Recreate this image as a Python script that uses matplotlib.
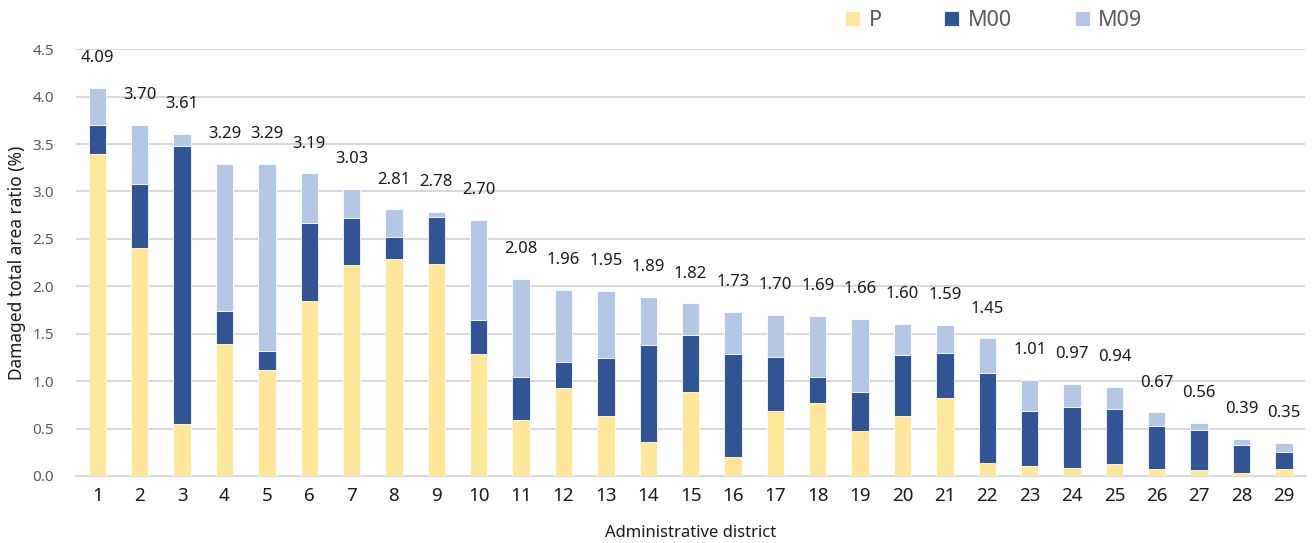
import matplotlib
matplotlib.use("Agg")
import matplotlib.pyplot as plt
import numpy as np

plt.rcParams['font.family'] = ['Noto Sans', 'DejaVu Sans']

districts = [str(i) for i in range(1, 30)]
p_vals = [3.40, 2.40, 0.55, 1.39, 1.12, 1.85, 2.22, 2.29, 2.24, 1.29,
          0.59, 0.93, 0.63, 0.36, 0.89, 0.20, 0.69, 0.77, 0.47, 0.63,
          0.82, 0.14, 0.11, 0.08, 0.13, 0.07, 0.06, 0.03, 0.07]
m00_vals = [0.30, 0.68, 2.93, 0.35, 0.20, 0.82, 0.50, 0.23, 0.49, 0.35,
            0.45, 0.27, 0.61, 1.02, 0.60, 1.09, 0.56, 0.27, 0.42, 0.65,
            0.48, 0.95, 0.57, 0.65, 0.58, 0.46, 0.42, 0.30, 0.18]
m09_vals = [0.39, 0.62, 0.13, 1.55, 1.97, 0.52, 0.31, 0.29, 0.05, 1.06,
            1.04, 0.76, 0.71, 0.51, 0.33, 0.44, 0.45, 0.65, 0.77, 0.32,
            0.29, 0.36, 0.33, 0.24, 0.23, 0.14, 0.08, 0.06, 0.10]
y_ticks = [0.0, 0.5, 1.0, 1.5, 2.0, 2.5, 3.0, 3.5, 4.0, 4.5]

col_p = '#FFE699'
col_m00 = '#2F5597'
col_m09 = '#B4C7E7'
grid_col = '#D9D9D9'
text_grey = '#595959'

fig = plt.figure(figsize=(13.13, 5.43), dpi=100)
ax = fig.add_axes([0.058, 0.1234, 0.936, 0.786])

x = np.arange(1, len(districts) + 1)
p = np.array(p_vals)
m00 = np.array(m00_vals)
m09 = np.array(m09_vals)
w = 0.41
kw = dict(width=w, edgecolor='white', linewidth=0.6, zorder=3)
ax.bar(x, p, color=col_p, label='P', **kw)
ax.bar(x, m00, bottom=p, color=col_m00, label='M00', **kw)
ax.bar(x, m09, bottom=p + m00, color=col_m09, label='M09', **kw)

totals = p + m00 + m09
for xi, t in zip(x, totals):
    ax.annotate(f'{t:.2f}', (xi, t), xytext=(0, 21.5), textcoords='offset points',
                ha='center', va='center', fontsize=12, color='#1a1a1a')

ax.set_xlim(0.5, 29.5)
ax.set_ylim(0, 4.5)
ax.set_yticks(y_ticks)
ax.set_yticklabels([f'{v:.1f}' for v in y_ticks], fontsize=11, color=text_grey)
ax.set_xticks(x)
ax.set_xticklabels(districts, fontsize=13.5, color='#1a1a1a')
ax.tick_params(axis='both', length=0)
ax.tick_params(axis='y', pad=16)
ax.tick_params(axis='x', pad=8)
ax.grid(axis='y', color=grid_col, linewidth=1.5, zorder=0)
ax.set_axisbelow(True)
for s in ['top', 'right', 'left']:
    ax.spines[s].set_visible(False)
ax.spines['bottom'].set_color(grid_col)
ax.spines['bottom'].set_linewidth(1.5)

ax.set_ylabel('Damaged total area ratio (%)', fontsize=12.5, color='#1a1a1a', labelpad=4.5)
ax.set_xlabel('Administrative district', fontsize=12, color='#1a1a1a', labelpad=14)

handles, labels = ax.get_legend_handles_labels()
leg = fig.legend(handles, labels, loc='center', bbox_to_anchor=(0.757, 0.963), ncol=3,
                 frameon=False, fontsize=15.5, handlelength=0.7, handleheight=0.7,
                 handletextpad=0.4, columnspacing=2.9)
for t in leg.get_texts():
    t.set_color(text_grey)

fig.savefig('out.png', dpi=100)
